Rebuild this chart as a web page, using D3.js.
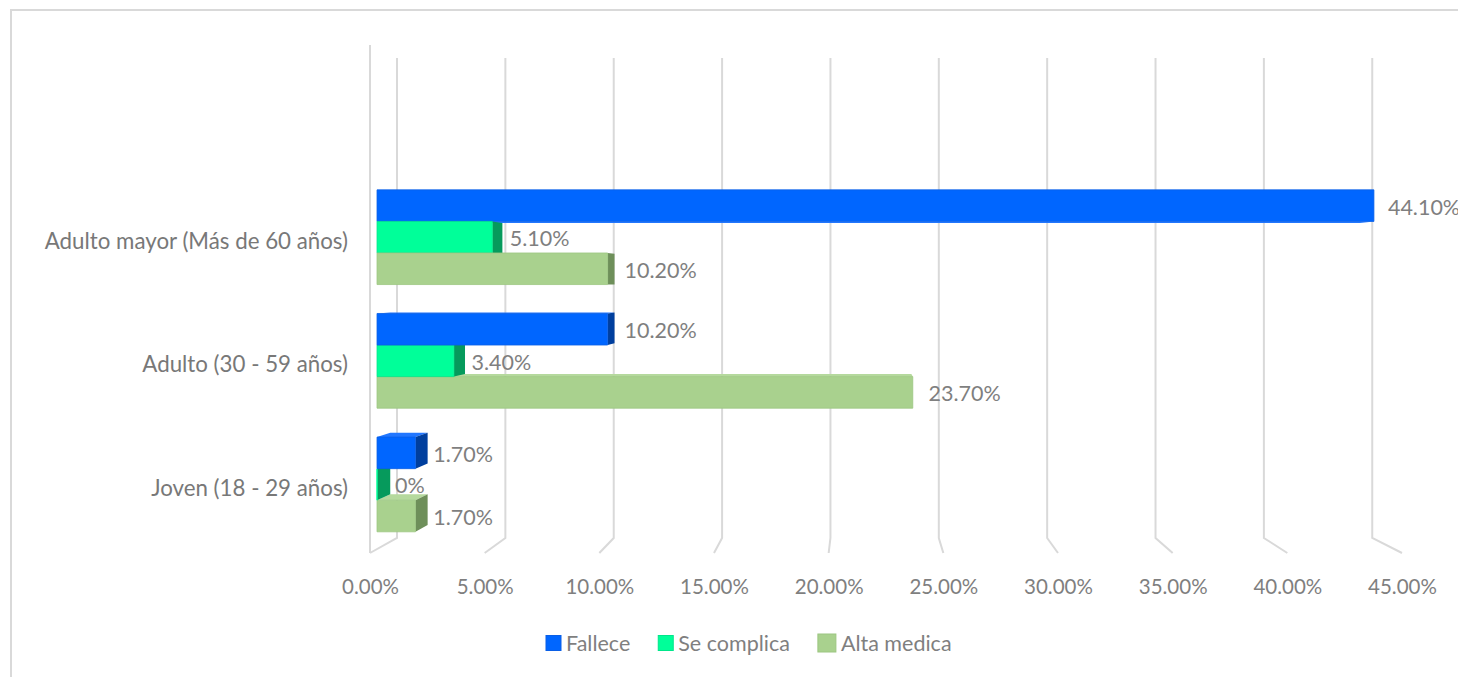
<!DOCTYPE html>
<html>
<head>
<meta charset="utf-8">
<script src="https://cdn.jsdelivr.net/npm/d3@7"></script>
<style>
  body { margin: 0; background: #ffffff; }
  svg { display: block; }
  text { font-family: Lato, "Open Sans", "Liberation Sans", sans-serif; }
</style>
</head>
<body>
<svg id="chart" width="1458" height="677"></svg>
<script>
// ---- data ----
const categories = ["Adulto mayor (Más de 60 años)", "Adulto (30 - 59 años)", "Joven (18 - 29 años)"];
const seriesNames = ["Fallece", "Se complica", "Alta medica"];
const fallece    = [0.441, 0.102, 0.017];
const seComplica = [0.051, 0.034, 0.0];
const altaMedica = [0.102, 0.237, 0.017];
const tickValues = [0, 0.05, 0.10, 0.15, 0.20, 0.25, 0.30, 0.35, 0.40, 0.45];

// ---- styles ----
const faceColors = {
  "Fallece":     { front: "#0066ff", side: "#003f9e", top: "#2277ff", edge: "#0a5fe6" },
  "Se complica": { front: "#00ff99", side: "#069a5c", top: "#33ffad", edge: "#00e68a" },
  "Alta medica": { front: "#a9d18e", side: "#6e8f5a", top: "#b5d99d", edge: "#9cc681" }
};
const textGray = "#7f7f7f";
const gridGray = "#d9d9d9";

const svg = d3.select("#chart");

// Outer chart frame
svg.append("rect")
  .attr("x", 11).attr("y", 10).attr("width", 1470).attr("height", 700)
  .attr("fill", "none").attr("stroke", "#d9d9d9").attr("stroke-width", 2);

// ---- 3D perspective helpers ----
// Front-plane coordinates (X, Y) are pushed back toward a vanishing point by depth t (0 = front, 1 = back wall).
const VP = [861, 280];
const depthShrink = 0.055;
function proj(X, Y, t) {
  const s = 1 - depthShrink * t;
  return [VP[0] + s * (X - VP[0]), VP[1] + s * (Y - VP[1])];
}
const poly = pts => "M" + pts.map(p => p[0].toFixed(2) + "," + p[1].toFixed(2)).join("L") + "Z";

const plotTop = 45, plotFloor = 553;
const x = d3.scaleLinear().domain([0, 0.45]).range([370, 1402]);
const yCat = d3.scaleBand().domain(categories).range([176, 548]).paddingInner(0.234).paddingOuter(0.1);
const ySer = d3.scaleBand().domain(seriesNames).range([0, yCat.bandwidth()]);
const barDepth = [0.26, 0.75];

// ---- walls: gridlines on back wall and floor ----
const grid = svg.append("g").attr("fill", "none").attr("stroke", gridGray).attr("stroke-width", 2);
tickValues.forEach(v => {
  const X = x(v);
  const bTop = proj(X, plotTop, 1), bBot = proj(X, plotFloor, 1), fBot = proj(X, plotFloor, 0);
  grid.append("path").attr("d", d3.line()([bTop, bBot, fBot]));
});
// category axis edge at the front of the side wall
grid.append("path").attr("d", d3.line()([proj(x(0), plotTop, 0), proj(x(0), plotFloor, 0)]));

// ---- bars ----
const seriesValues = { "Fallece": fallece, "Se complica": seComplica, "Alta medica": altaMedica };
const bars = [];
categories.forEach((c, i) => {
  seriesNames.forEach(s => {
    const Y0 = yCat(c) + ySer(s), Y1 = Y0 + ySer.bandwidth();
    bars.push({ cat: c, series: s, value: seriesValues[s][i], Y0, Y1 });
  });
});
// paint faces farthest from the eye line first
bars.sort((a, b) => Math.abs((b.Y0 + b.Y1) / 2 - VP[1]) - Math.abs((a.Y0 + a.Y1) / 2 - VP[1]));

const [t1, t2] = barDepth;
const gBars = svg.append("g");
bars.forEach(b => {
  const col = faceColors[b.series];
  const X0 = x(0), X1 = x(b.value);
  const g = gBars.append("g");
  // top face (visible when the bar sits below the eye line)
  if (b.Y0 > VP[1]) {
    g.append("path").attr("d", poly([proj(X0, b.Y0, t1), proj(X1, b.Y0, t1), proj(X1, b.Y0, t2), proj(X0, b.Y0, t2)]))
      .attr("fill", col.top);
  }
  // bottom face (visible when the bar sits above the eye line)
  if (b.Y1 < VP[1]) {
    g.append("path").attr("d", poly([proj(X0, b.Y1, t1), proj(X1, b.Y1, t1), proj(X1, b.Y1, t2), proj(X0, b.Y1, t2)]))
      .attr("fill", col.top);
  }
  // end cap face (visible when the bar end lies left of the vanishing point)
  if (proj(X1, b.Y0, t1)[0] < VP[0]) {
    g.append("path").attr("d", poly([proj(X1, b.Y0, t1), proj(X1, b.Y0, t2), proj(X1, b.Y1, t2), proj(X1, b.Y1, t1)]))
      .attr("fill", col.side);
  }
  // front face
  if (b.value > 0) {
    g.append("path").attr("d", poly([proj(X0, b.Y0, t1), proj(X1, b.Y0, t1), proj(X1, b.Y1, t1), proj(X0, b.Y1, t1)]))
      .attr("fill", col.front).attr("stroke", col.edge).attr("stroke-width", 0.8);
  } else {
    g.append("path").attr("d", d3.line()([proj(X0, b.Y0, t1), proj(X0, b.Y1, t1)]))
      .attr("stroke", col.front).attr("stroke-width", 1.5);
  }
});

// ---- data labels ----
const fmtPct = v => v === 0 ? "0%" : d3.format(".2%")(v);
const labelDepth = 0.33;
svg.append("g").selectAll("text").data(bars).join("text")
  .attr("x", d => proj(x(d.value), (d.Y0 + d.Y1) / 2, labelDepth)[0] + 16)
  .attr("y", d => proj(x(d.value), (d.Y0 + d.Y1) / 2, t1)[1] + 1)
  .attr("dominant-baseline", "central")
  .attr("font-size", 21.5).attr("fill", textGray)
  .text(d => fmtPct(d.value));

// ---- value axis (front floor edge) ----
const axis = d3.axisBottom(x).tickValues(tickValues).tickFormat(d3.format(".2%")).tickSize(0).tickPadding(2);
const gAxis = svg.append("g").attr("transform", "translate(0,577)").call(axis);
gAxis.select(".domain").remove();
gAxis.selectAll("text").attr("font-size", 20.5).attr("fill", textGray)
  .attr("font-family", "Lato, 'Open Sans', sans-serif");

// ---- category labels ----
svg.append("g").selectAll("text").data(categories).join("text")
  .attr("x", 348)
  .attr("y", c => proj(x(0), yCat(c) + yCat.bandwidth() / 2, t1)[1] + 3)
  .attr("text-anchor", "end").attr("dominant-baseline", "central")
  .attr("font-size", 22.3).attr("fill", "#787878")
  .text(c => c);

// ---- legend ----
const legend = svg.append("g").attr("transform", "translate(546,643)");
let lx = 0;
seriesNames.forEach(s => {
  const col = faceColors[s];
  const big = s === "Alta medica";
  const sz = big ? 18 : 15;
  legend.append("rect").attr("x", lx).attr("y", -sz / 2).attr("width", sz).attr("height", sz)
    .attr("fill", col.front).attr("stroke", big ? "#9cc681" : col.edge).attr("stroke-width", 1);
  const t = legend.append("text").attr("x", lx + sz + 5).attr("y", 0)
    .attr("dominant-baseline", "central").attr("font-size", 21.5).attr("fill", textGray).text(s);
  lx += sz + 5 + t.node().getComputedTextLength() + 28;
});
</script>
</body>
</html>
